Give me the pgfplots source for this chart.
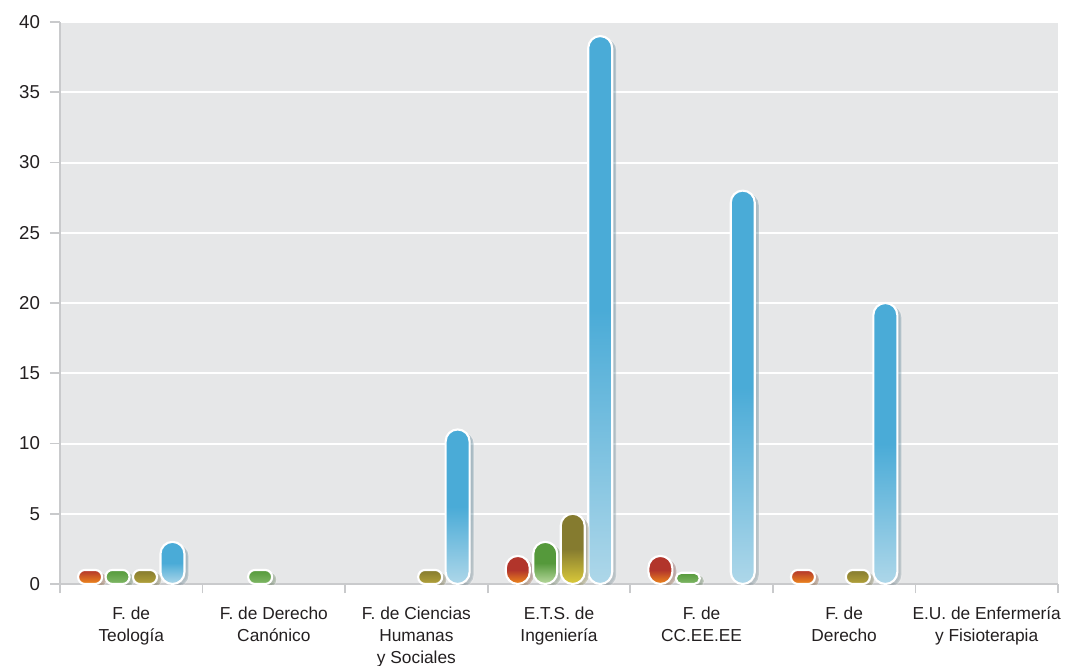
\documentclass[border=0pt]{standalone}
\usepackage{pgfplots}
\pgfplotsset{compat=1.18}
\usepackage{fontspec}
\setmainfont{Liberation Sans}
\usetikzlibrary{shadows}
\definecolor{bg}{HTML}{E6E7E8}
\definecolor{axc}{HTML}{C9CACC}
\definecolor{textc}{HTML}{231F20}
\definecolor{rtop}{HTML}{B2352B}
\definecolor{rbot}{HTML}{F08A1C}
\definecolor{gtop}{HTML}{55993B}
\definecolor{gbot}{HTML}{B9D99F}
\definecolor{gsm}{HTML}{80B866}
\definecolor{otop}{HTML}{857B2F}
\definecolor{obot}{HTML}{DCCB3A}
\definecolor{osm}{HTML}{B3A23A}
\definecolor{btop}{HTML}{4AABD7}
\definecolor{bbot}{HTML}{AED7E9}
\begin{document}
\begin{tikzpicture}
\begin{axis}[
  scale only axis, width=748.5pt, height=421.5pt,
  xmin=-0.5, xmax=6.5, ymin=0, ymax=40,
  axis background/.style={fill=bg},
  axis lines*=left,
  axis line style={draw=axc, line width=1.2pt},
  ytick={0,5,...,40},
  ymajorgrids, grid style={white, line width=1.5pt},
  ytick style={draw=axc, line width=1.2pt},
  major tick length=7.5pt,
  tick align=outside,
  xtick={0,...,6},
  xticklabels={F. de\\Teología, F. de Derecho\\Canónico, F. de Ciencias\\Humanas\\y Sociales, E.T.S. de\\Ingeniería, F. de\\CC.EE.EE, F. de\\Derecho, E.U. de Enfermería\\y Fisioterapia},
  xtick style={draw=none},
  minor xtick={-0.5,0.5,...,6.5},
  minor x tick style={draw=axc, line width=1.2pt},
  minor tick length=7pt,
  xticklabel style={align=center, font=\fontsize{13}{16.5}\selectfont, text=textc, anchor=north, yshift=-6pt},
  yticklabel style={font=\fontsize{14}{16}\selectfont, text=textc, xshift=-4pt},
  /pgf/number format/assume math mode=true,
  bar width=18pt,
  every axis plot/.append style={draw=white, line width=1.6pt,
     drop shadow={shadow xshift=3pt, shadow yshift=-2pt, opacity=0.18, fill=black}},
  bigbar/.style={ybar, rounded corners=9pt},
  smallbar/.style={ybar, rounded corners=5.2pt},
  R/.style={bar shift=-30.9pt},
  G/.style={bar shift=-10.3pt},
  O/.style={bar shift=10.3pt},
  B/.style={bar shift=30.9pt},
  rbig/.style={bigbar, R, top color=rtop, bottom color=rbot, middle color=rtop},
  gbig/.style={bigbar, G, top color=gtop, bottom color=gbot, middle color=gtop},
  obig/.style={bigbar, O, top color=otop, bottom color=obot, middle color=otop},
  bbig/.style={bigbar, B, top color=btop, bottom color=bbot, middle color=btop},
]
% blue series (one plot per bar, so each bar has its own shading)
\addplot[bbig] coordinates {(0,3)};
\addplot[bbig] coordinates {(2,11)};
\addplot[bbig] coordinates {(3,39)};
\addplot[bbig] coordinates {(4,28)};
\addplot[bbig] coordinates {(5,20)};
% red, green, olive larger bars
\addplot[rbig] coordinates {(3,2)};
\addplot[rbig] coordinates {(4,2)};
\addplot[gbig] coordinates {(3,3)};
\addplot[obig] coordinates {(3,5)};
% small bars (value 1 and below)
\addplot[smallbar, R, top color=rtop, bottom color=rbot] coordinates {(0,1) (5,1)};
\addplot[smallbar, G, top color=gtop, bottom color=gsm] coordinates {(0,1) (1,1)};
\addplot[smallbar, G, rounded corners=4.2pt, top color=gtop, bottom color=gsm] coordinates {(4,0.8)};
\addplot[smallbar, O, top color=otop, bottom color=osm] coordinates {(0,1) (2,1) (5,1)};
\end{axis}
\pgfresetboundingbox
\path[use as bounding box] (-45pt,-60.75pt) rectangle (753.75pt,438pt);
\end{tikzpicture}
\end{document}
